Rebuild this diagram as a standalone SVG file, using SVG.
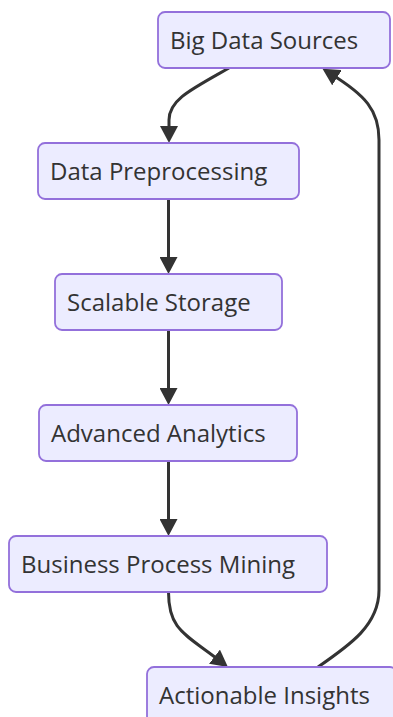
<svg xmlns="http://www.w3.org/2000/svg" width="393" height="717" viewBox="0 0 393 717">
<style>
.node rect{fill:#ECECFF;stroke:#9370DB;stroke-width:1.8}
.node text{font-family:"Open Sans","Noto Sans",sans-serif;font-size:24px;fill:#333333}
.edge{fill:none;stroke:#333333;stroke-width:3}
</style>
<defs>
<marker id="arrow" viewBox="0 0 17 18" refX="7" refY="9" markerWidth="17" markerHeight="18" markerUnits="userSpaceOnUse" orient="auto">
<path d="M0,0 L17,9 L0,18 z" fill="#333333"/>
</marker>
</defs>
<rect width="393" height="717" fill="#ffffff"/>
<g id="connectors">
<path class="edge" marker-end="url(#arrow)" d="M229,68 C190,90 169,100 169,120 L169,133"/>
<path class="edge" marker-end="url(#arrow)" d="M168.5,199 L168.5,264"/>
<path class="edge" marker-end="url(#arrow)" d="M168.5,330 L168.5,395"/>
<path class="edge" marker-end="url(#arrow)" d="M168.5,461 L168.5,526"/>
<path class="edge" marker-end="url(#arrow)" d="M168.5,592 C168.5,630 185,634 220,661"/>
<path class="edge" marker-end="url(#arrow)" d="M318,667 C350,645 379,625 379,590 L379,140 C379,110 365,95 331,74"/>
</g>
<g id="node-big-data-sources" class="node">
<rect x="158" y="12" width="232" height="56" rx="7"/>
<text x="170" y="49">Big Data Sources</text>
</g>
<g id="node-data-preprocessing" class="node">
<rect x="38" y="143" width="261" height="56" rx="7"/>
<text x="50" y="180">Data Preprocessing</text>
</g>
<g id="node-scalable-storage" class="node">
<rect x="55" y="274" width="227" height="56" rx="7"/>
<text x="67" y="311">Scalable Storage</text>
</g>
<g id="node-advanced-analytics" class="node">
<rect x="39" y="405" width="258" height="56" rx="7"/>
<text x="51" y="442">Advanced Analytics</text>
</g>
<g id="node-business-process-mining" class="node">
<rect x="9" y="536" width="318" height="56" rx="7"/>
<text x="21" y="573">Business Process Mining</text>
</g>
<g id="node-actionable-insights" class="node">
<rect x="147" y="667" width="250" height="56" rx="7"/>
<text x="159" y="704">Actionable Insights</text>
</g>
</svg>
